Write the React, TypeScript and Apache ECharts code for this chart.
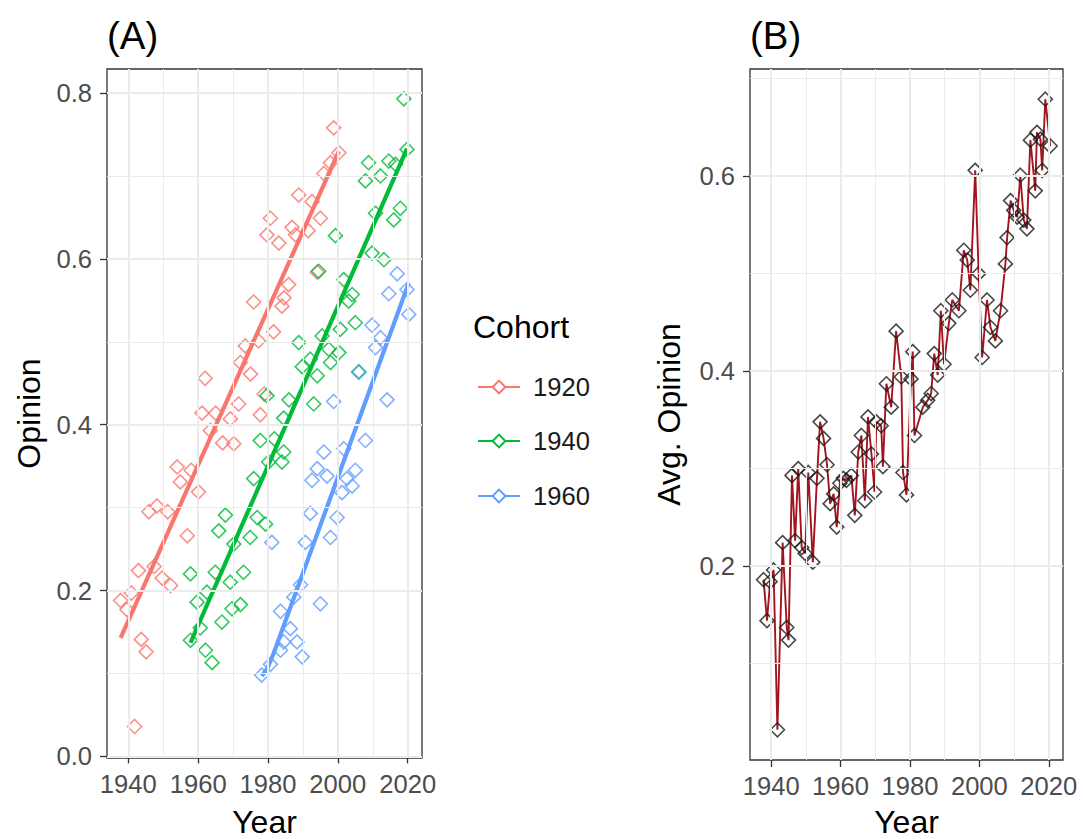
import React, { useEffect, useRef } from "react";
import * as echarts from "echarts";

// ---------- data ----------
const cohortNames = ["1920", "1940", "1960"];
const cohortColors = ["#F8766D", "#00BA38", "#619CFF"];

const cohort1920 = [
  [1937.8, 0.188], [1939.6, 0.177], [1940.9, 0.197], [1941.8, 0.036], [1942.9, 0.224],
  [1943.7, 0.141], [1945.1, 0.126], [1945.9, 0.295], [1947.4, 0.229], [1948.2, 0.302],
  [1949.7, 0.215], [1951.3, 0.295], [1952.1, 0.206], [1954.0, 0.349], [1954.9, 0.331],
  [1956.9, 0.266], [1958.0, 0.345], [1960.1, 0.319], [1961.1, 0.414], [1962.0, 0.456],
  [1963.5, 0.393], [1965.0, 0.414], [1967.0, 0.378], [1969.2, 0.407], [1970.2, 0.377],
  [1971.6, 0.425], [1972.1, 0.475], [1973.5, 0.495], [1975.0, 0.461], [1975.9, 0.548],
  [1977.3, 0.501], [1977.8, 0.412], [1978.9, 0.437], [1979.7, 0.629], [1980.7, 0.649],
  [1981.6, 0.512], [1983.1, 0.619], [1984.0, 0.543], [1984.6, 0.553], [1985.9, 0.569],
  [1986.9, 0.638], [1987.9, 0.629], [1988.8, 0.677], [1991.5, 0.634], [1992.6, 0.669],
  [1994.1, 0.584], [1995.0, 0.649], [1996.0, 0.703], [1997.9, 0.716], [1998.8, 0.758],
  [2000.3, 0.728],
];

const cohort1940 = [
  [1957.8, 0.140], [1957.8, 0.220], [1959.7, 0.186], [1960.6, 0.155], [1962.1, 0.128],
  [1962.5, 0.198], [1964.0, 0.113], [1964.9, 0.222], [1965.9, 0.272], [1966.8, 0.162],
  [1967.8, 0.291], [1969.2, 0.210], [1969.7, 0.178], [1970.2, 0.256], [1972.1, 0.183],
  [1973.0, 0.222], [1974.9, 0.264], [1975.9, 0.335], [1976.9, 0.288], [1977.8, 0.381],
  [1979.3, 0.280], [1979.7, 0.435], [1980.2, 0.355], [1981.8, 0.383], [1984.0, 0.355],
  [1984.5, 0.367], [1984.5, 0.408], [1986.0, 0.430], [1988.8, 0.499], [1989.8, 0.470],
  [1992.1, 0.479], [1993.1, 0.425], [1994.1, 0.459], [1994.5, 0.585], [1995.5, 0.507],
  [1997.4, 0.491], [1997.9, 0.475], [1999.3, 0.628], [2000.3, 0.487], [2000.7, 0.515],
  [2001.7, 0.575], [2003.1, 0.549], [2004.1, 0.557], [2005.0, 0.523], [2006.0, 0.464],
  [2007.9, 0.694], [2008.8, 0.716], [2009.8, 0.607], [2010.8, 0.655], [2012.2, 0.700],
  [2013.2, 0.599], [2014.6, 0.718], [2016.0, 0.647], [2016.5, 0.714], [2017.9, 0.661],
  [2018.9, 0.793], [2019.8, 0.732],
];

const cohort1960 = [
  [1978.2, 0.098], [1980.7, 0.111], [1981.1, 0.258], [1983.6, 0.128], [1983.6, 0.175],
  [1984.5, 0.138], [1986.4, 0.154], [1987.4, 0.192], [1988.3, 0.138], [1989.3, 0.207],
  [1989.8, 0.120], [1990.7, 0.258], [1992.1, 0.293], [1992.6, 0.333], [1994.1, 0.347],
  [1995.0, 0.184], [1996.0, 0.367], [1996.9, 0.338], [1997.9, 0.264], [1998.8, 0.428],
  [1999.8, 0.288], [2001.2, 0.318], [2001.7, 0.371], [2002.6, 0.335], [2004.1, 0.326],
  [2005.0, 0.345], [2006.0, 0.463], [2007.9, 0.381], [2009.8, 0.520], [2010.8, 0.493],
  [2012.2, 0.505], [2014.1, 0.430], [2014.6, 0.558], [2017.0, 0.582], [2019.8, 0.563],
  [2020.3, 0.533],
];

// fitted trend lines
const fit1920 = [[1937.8, 0.143], [2000.3, 0.730]];
const fit1940 = [[1957.8, 0.137], [2019.8, 0.733]];
const fit1960 = [[1978.2, 0.097], [1979.8, 0.106], [1981.6, 0.124], [2020.3, 0.571]];

// panel B: average opinion by year
const avgOpinion = [
  [1937.8, 0.186], [1938.8, 0.144], [1939.7, 0.184], [1940.7, 0.196], [1941.8, 0.032],
  [1943.3, 0.224], [1944.5, 0.137], [1945.0, 0.124], [1946.0, 0.293], [1946.9, 0.226],
  [1947.8, 0.300], [1948.8, 0.219], [1949.8, 0.213], [1950.7, 0.296], [1952.0, 0.204],
  [1953.2, 0.290], [1954.1, 0.348], [1955.1, 0.331], [1956.1, 0.304], [1957.0, 0.264],
  [1958.0, 0.274], [1958.9, 0.240], [1959.8, 0.285], [1960.8, 0.290], [1961.7, 0.288],
  [1963.1, 0.293], [1964.1, 0.252], [1965.1, 0.317], [1966.0, 0.334], [1967.0, 0.267],
  [1967.9, 0.353], [1968.9, 0.315], [1969.8, 0.276], [1970.3, 0.348], [1971.7, 0.344],
  [1972.2, 0.302], [1973.2, 0.387], [1974.6, 0.363], [1976.0, 0.441], [1977.5, 0.394],
  [1978.0, 0.296], [1979.0, 0.273], [1980.3, 0.392], [1980.8, 0.420], [1981.3, 0.334],
  [1983.7, 0.363], [1985.1, 0.370], [1986.1, 0.377], [1987.0, 0.418], [1988.0, 0.396],
  [1988.9, 0.462], [1989.8, 0.407], [1991.2, 0.449], [1992.2, 0.473], [1994.1, 0.462],
  [1995.5, 0.524], [1996.5, 0.514], [1997.4, 0.483], [1998.8, 0.606], [1999.8, 0.500],
  [2000.8, 0.414], [2002.2, 0.473], [2003.2, 0.445], [2004.6, 0.431], [2006.1, 0.462],
  [2007.5, 0.510], [2008.0, 0.537], [2009.0, 0.575], [2009.9, 0.565], [2010.9, 0.558],
  [2011.8, 0.601], [2012.8, 0.555], [2013.7, 0.546], [2014.7, 0.637], [2016.1, 0.585],
  [2016.6, 0.645], [2017.6, 0.638], [2018.1, 0.606], [2019.0, 0.679], [2020.4, 0.631],
];

// ticks / grid lines
const xTicks = [1940, 1960, 1980, 2000, 2020];
const xMinor = [1950, 1970, 1990, 2010];
const yTicksA = [0, 0.2, 0.4, 0.6, 0.8];
const yMinorA = [0.1, 0.3, 0.5, 0.7];
const yTicksB = [0.2, 0.4, 0.6];
const yMinorB = [0.1, 0.3, 0.5, 0.7];

const FONT = "'Liberation Sans', Arial, Helvetica, sans-serif";
const GRID_COLOR = "#EBEBEB";

function gridLinesSeries(xi: number, xMaj: number[], xMin: number[], yMaj: number[], yMin: number[]) {
  const maj = { color: GRID_COLOR, width: 2, type: "solid" };
  const mnr = { color: GRID_COLOR, width: 1, type: "solid" };
  return {
    type: "line",
    name: "grid" + xi,
    xAxisIndex: xi,
    yAxisIndex: xi,
    data: [],
    z: 1,
    silent: true,
    markLine: {
      silent: true,
      symbol: ["none", "none"],
      label: { show: false },
      emphasis: { disabled: true },
      data: [
        ...xMin.map((v) => ({ xAxis: v, lineStyle: mnr })),
        ...yMin.map((v) => ({ yAxis: v, lineStyle: mnr })),
        ...xMaj.map((v) => ({ xAxis: v, lineStyle: maj })),
        ...yMaj.map((v) => ({ yAxis: v, lineStyle: maj })),
      ],
    },
  };
}

function xAxisDef(gi: number, gap: number) {
  return {
    type: "value",
    gridIndex: gi,
    min: 1933.9,
    max: 2024.1,
    axisLine: { show: false },
    splitLine: { show: false },
    axisTick: { show: true, customValues: xTicks, length: 7, lineStyle: { color: "#333333", width: 1.3 } },
    axisLabel: {
      customValues: xTicks,
      color: "#4D4D4D",
      fontSize: 25.6,
      fontFamily: FONT,
      margin: 13,
      formatter: (v: number) => String(v),
    },
    name: "Year",
    nameLocation: "middle",
    nameGap: gap,
    nameTextStyle: { fontSize: 32, color: "#000", fontFamily: FONT },
  };
}

function yAxisDef(gi: number, min: number, max: number, ticks: number[], name: string, gap: number) {
  return {
    type: "value",
    gridIndex: gi,
    min,
    max,
    axisLine: { show: false },
    splitLine: { show: false },
    axisTick: { show: true, customValues: ticks, length: 7, lineStyle: { color: "#333333", width: 1.3 } },
    axisLabel: {
      customValues: ticks,
      color: "#4D4D4D",
      fontSize: 25.6,
      fontFamily: FONT,
      margin: 15,
      formatter: (v: number) => v.toFixed(1),
    },
    name,
    nameLocation: "middle",
    nameGap: gap,
    nameTextStyle: { fontSize: 32, color: "#000", fontFamily: FONT },
  };
}

export default function App() {
  const ref = useRef<HTMLDivElement>(null);

  useEffect(() => {
    if (!ref.current) return;
    const chart = echarts.init(ref.current, undefined, { renderer: "svg" });

    const cohorts = [cohort1920, cohort1940, cohort1960];
    const fits = [fit1920, fit1940, fit1960];

    const pointSeries = cohorts.map((d, i) => ({
      type: "scatter",
      name: "pts" + cohortNames[i],
      xAxisIndex: 0,
      yAxisIndex: 0,
      data: d,
      symbol: "diamond",
      symbolSize: 14,
      z: 3,
      itemStyle: { color: "rgba(0,0,0,0)", borderColor: cohortColors[i], borderWidth: 1.6 },
      emphasis: { disabled: true },
    }));

    const fitSeries = fits.map((d, i) => ({
      type: "line",
      name: cohortNames[i],
      xAxisIndex: 0,
      yAxisIndex: 0,
      data: d,
      showSymbol: false,
      symbol: "emptyDiamond",
      symbolSize: 13,
      z: 4,
      color: cohortColors[i],
      lineStyle: { color: cohortColors[i], width: 4.2 },
      itemStyle: { color: cohortColors[i] },
      emphasis: { disabled: true },
    }));

    const legends = cohortNames.map((n, i) => ({
      data: [{ name: n }],
      left: 477,
      top: [387, 441, 496][i] - 15,
      orient: "vertical",
      padding: 0,
      itemWidth: 42,
      itemHeight: 16,
      selectedMode: false,
      textStyle: { fontSize: 25.6, color: "#1A1A1A", fontFamily: FONT, lineHeight: 30, padding: [0, 0, 0, 8] },
    }));

    const option: any = {
      animation: false,
      backgroundColor: "#ffffff",
      title: [
        { text: "(A)", left: 107, top: 16, padding: 0, textStyle: { fontSize: 38.4, fontWeight: "normal", color: "#000", fontFamily: FONT } },
        { text: "(B)", left: 750, top: 16, padding: 0, textStyle: { fontSize: 38.4, fontWeight: "normal", color: "#000", fontFamily: FONT } },
        { text: "Cohort", left: 473, top: 311, padding: 0, textStyle: { fontSize: 32, fontWeight: "normal", color: "#000", fontFamily: FONT } },
      ],
      legend: legends,
      grid: [
        { left: 107, top: 69, width: 315, height: 689, show: true, borderColor: "#333333", borderWidth: 1.3, backgroundColor: "transparent", containLabel: false, outerBoundsMode: "none" },
        { left: 750, top: 69, width: 313, height: 691, show: true, borderColor: "#333333", borderWidth: 1.3, backgroundColor: "transparent", containLabel: false, outerBoundsMode: "none" },
      ],
      xAxis: [xAxisDef(0, 48), xAxisDef(1, 46)],
      yAxis: [
        yAxisDef(0, -0.002, 0.829, yTicksA, "Opinion", 62),
        yAxisDef(1, 0.001, 0.71, yTicksB, "Avg. Opinion", 65),
      ],
      series: [
        gridLinesSeries(0, xTicks, xMinor, yTicksA, yMinorA),
        gridLinesSeries(1, xTicks, xMinor, yTicksB, yMinorB),
        ...pointSeries,
        ...fitSeries,
        {
          type: "line",
          name: "avgLine",
          xAxisIndex: 1,
          yAxisIndex: 1,
          data: avgOpinion,
          showSymbol: false,
          symbol: "none",
          z: 3,
          lineStyle: { color: "#A3141E", width: 1.9 },
          emphasis: { disabled: true },
        },
        {
          type: "scatter",
          name: "avgPts",
          xAxisIndex: 1,
          yAxisIndex: 1,
          data: avgOpinion,
          symbol: "diamond",
          symbolSize: 14,
          z: 4,
          itemStyle: { color: "rgba(0,0,0,0)", borderColor: "#1A1A1A", borderWidth: 1.6 },
          emphasis: { disabled: true },
        },
      ],
    };

    chart.setOption(option);
    return () => chart.dispose();
  }, []);

  return (
    <div
      ref={ref}
      style={{ position: "fixed", left: 0, top: 0, width: 1083, height: 839, background: "#fff" }}
    />
  );
}
